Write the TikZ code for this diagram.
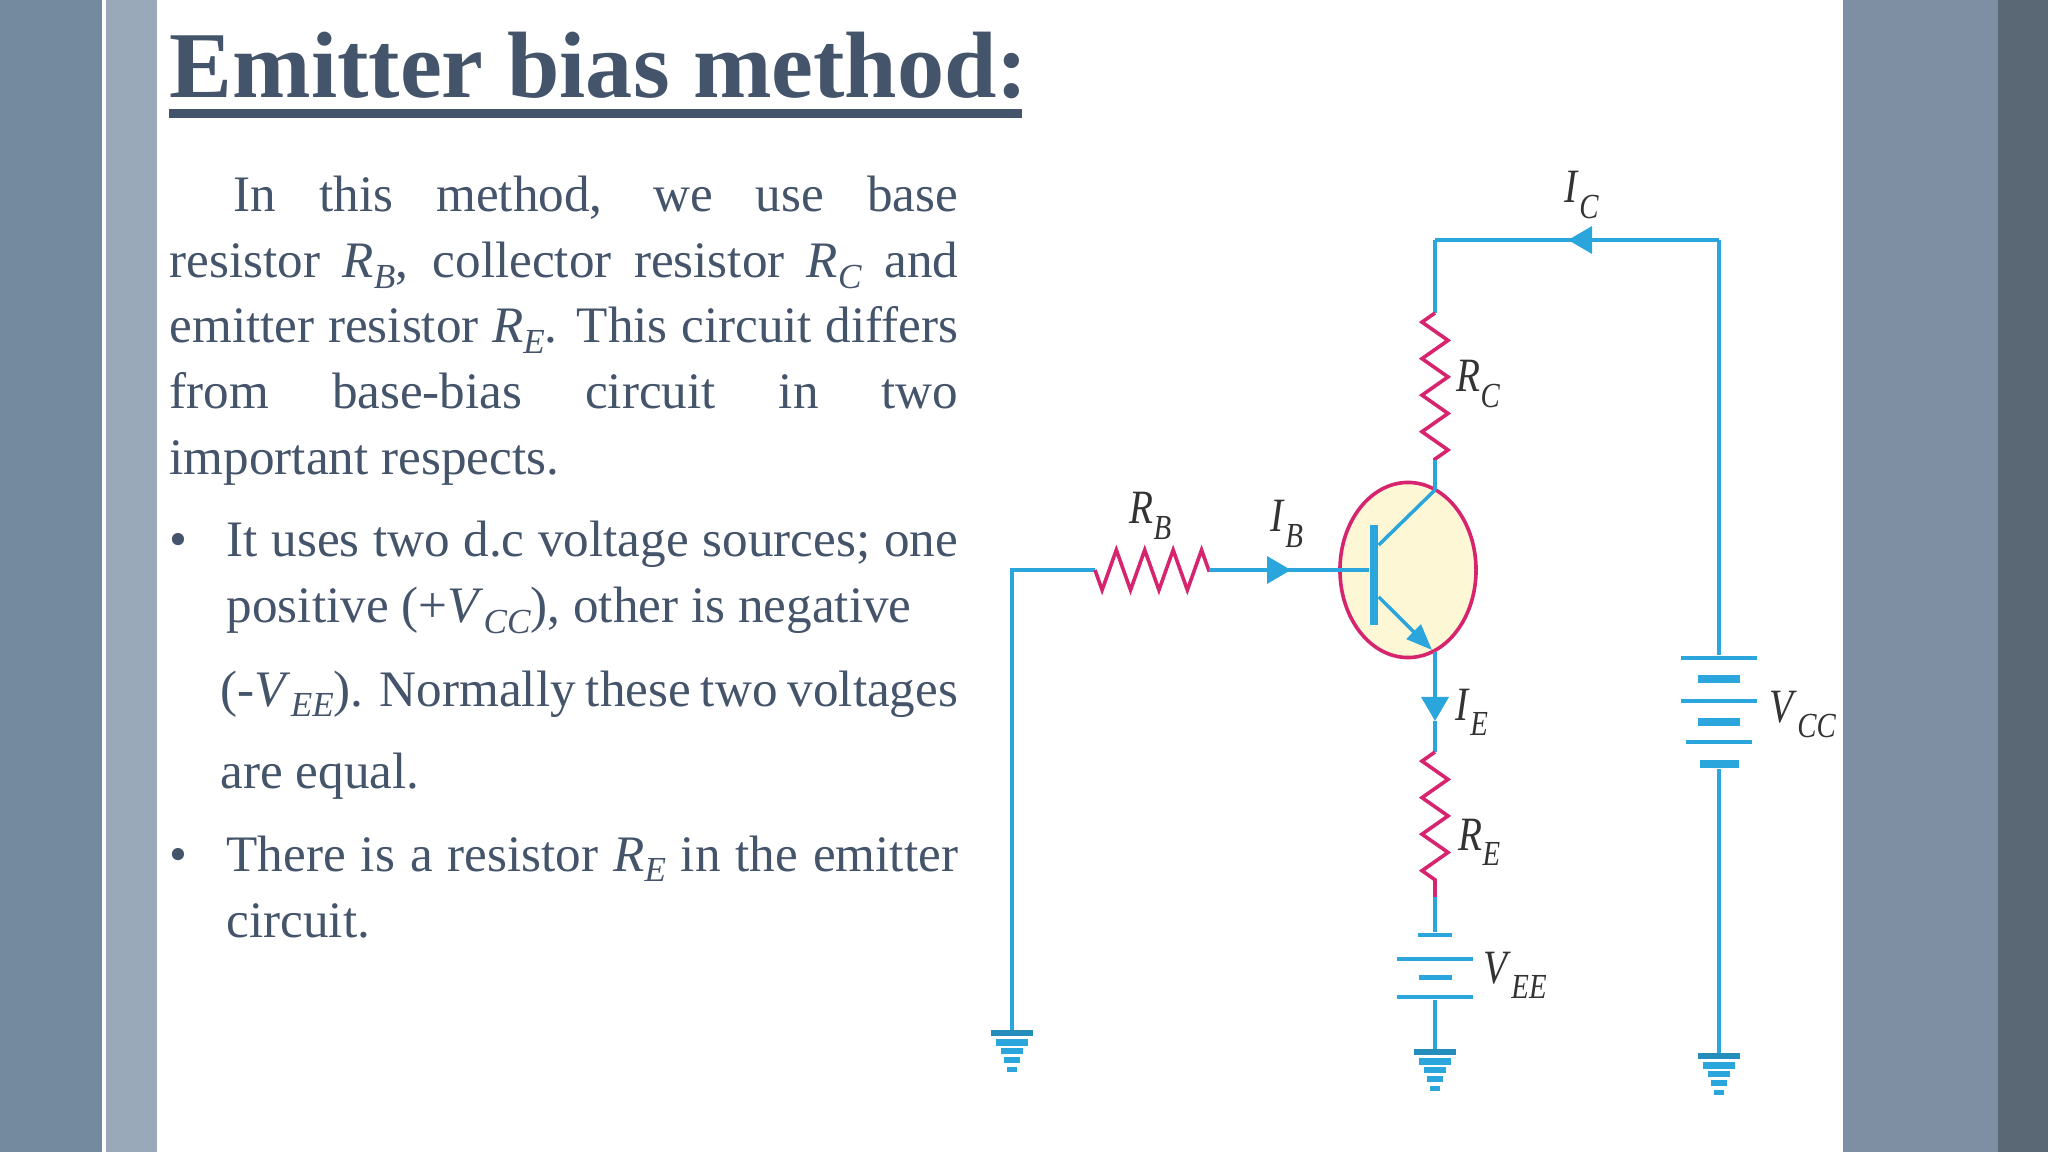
\documentclass[tikz,border=0pt]{standalone}
\usepackage{fontspec}
\usepackage{graphicx}
\setmainfont{Liberation Serif}
\usetikzlibrary{shapes.geometric, arrows.meta, decorations.pathmorphing}
\definecolor{barleft}{HTML}{748A9E}
\definecolor{barlight}{HTML}{9AA9B9}
\definecolor{barright}{HTML}{7E8FA3}
\definecolor{bardark}{HTML}{5A6775}
\definecolor{inkslate}{HTML}{44546A}
\definecolor{wireblue}{HTML}{2BA6DC}
\definecolor{resred}{HTML}{D6246E}
\definecolor{bjtfill}{HTML}{FDF7D6}
\newcommand{\bodysym}[2]{\textit{#1}\raisebox{-0.2em}{\fontsize{10}{12}\selectfont\textit{#2}}}
\newcommand{\cctsym}[2]{\scalebox{0.82}[1]{\textit{#1}\raisebox{-0.33em}{\fontsize{10}{12}\selectfont\textit{#2}}}}
\begin{document}
\begin{tikzpicture}[
    x=0.01cm, y=-0.01cm,
    heading/.style={anchor=base west, inner sep=0pt, text=inkslate, font=\fontsize{26.8}{30}\selectfont\bfseries},
    bodyline/.style={anchor=base west, inner sep=0pt, text=inkslate, font=\fontsize{14.55}{16}\selectfont},
    cctlabel/.style={anchor=base west, inner sep=0pt, text=black!80, font=\fontsize{13.6}{15}\selectfont},
    wire/.style={draw=wireblue, line width=0.035cm},
    heavywire/.style={draw=wireblue, line width=0.045cm},
    current/.style={wire, -{Triangle[length=0.24cm, width=0.27cm]}},
    resistor/.style={draw=resred, line width=0.036cm, decorate, decoration={zigzag, mirror, amplitude=0.13cm, segment length=0.365cm}},
    baseresistor/.style={resistor, decoration={zigzag, mirror, amplitude=0.2cm, segment length=0.284cm}},
    longplate/.style={fill=wireblue, inner sep=0pt, minimum width=0.76cm, minimum height=0.04cm},
    shortplate/.style={fill=wireblue, inner sep=0pt, minimum width=0.42cm, minimum height=0.08cm},
    ground/.pic={
      \draw[wireblue!85!black, line width=0.055cm] (-21,0) -- (21,0);
      \draw[wireblue, line width=0.07cm] (-16,9) -- (16,9);
      \draw[wireblue, line width=0.055cm] (-11,18) -- (11,18);
      \draw[wireblue, line width=0.055cm] (-8,27) -- (8,27);
      \draw[wireblue, line width=0.05cm] (-5,36) -- (5,36);
    }
  ]
    \useasboundingbox (0,0) rectangle (2048,1152);
    \fill[white] (0,0) rectangle (2048,1152);
    \fill[barleft] (0,0) rectangle (102,1152);
    \fill[barlight] (106,0) rectangle (157,1152);
    \fill[barright] (1843,0) rectangle (1998,1152);
    \fill[bardark] (1998,0) rectangle (2048,1152);

    \node[heading] (title) at (169,98) {Emitter bias method:};
    \fill[inkslate] (169,109) rectangle (1022,118);

    \node[bodyline] (line1) at (233,212) {\makebox[7.24cm][s]{In this method, we use base}};
    \node[bodyline] (line2) at (169,278) {\makebox[7.88cm][s]{resistor \bodysym{R}{B}, collector resistor \bodysym{R}{C} and}};
    \node[bodyline] (line3) at (169,343) {\makebox[7.88cm][s]{emitter resistor \bodysym{R}{E}. This circuit differs}};
    \node[bodyline] (line4) at (169,409) {\makebox[7.88cm][s]{from base-bias circuit in two}};
    \node[bodyline] (line5) at (169,475) {important respects.};

    \node[bodyline] (dot1) at (169,557) {•};
    \node[bodyline] (line6) at (226,557) {\makebox[7.31cm][s]{It uses two d.c voltage sources; one}};
    \node[bodyline] (line7) at (226,623) {positive (+\bodysym{V}{CC}), other is negative};
    \node[bodyline] (line8) at (220,706) {\makebox[7.37cm][s]{(-\bodysym{V}{EE}). Normally these two voltages}};
    \node[bodyline] (line9) at (220,788) {are equal.};
    \node[bodyline] (dot2) at (169,871) {•};
    \node[bodyline] (line10) at (226,871) {\makebox[7.31cm][s]{There is a resistor \bodysym{R}{E} in the emitter}};
    \node[bodyline] (line11) at (226,937) {circuit.};

    \node[ellipse, draw=resred, fill=bjtfill, line width=0.036cm, inner sep=0pt, minimum width=1.36cm, minimum height=1.75cm] (bjt) at (1408,570) {};
    \node[fill=wireblue, inner sep=0pt, minimum width=0.08cm, minimum height=0.99cm] (basebar) at (1374,575) {};

    \coordinate (gndL) at (1012,1033);
    \coordinate (baseL) at (1012,570);
    \coordinate (rbL) at (1095,570);
    \coordinate (rbR) at (1209,570);
    \coordinate (ibTip) at (1291,570);
    \coordinate (topL) at (1435,240);
    \coordinate (topR) at (1719,240);
    \coordinate (icTip) at (1568,240);
    \coordinate (rcT) at (1435,313);
    \coordinate (rcB) at (1435,460);
    \coordinate (coll) at (1435,490);
    \coordinate (emit) at (1432,650);
    \coordinate (emitOut) at (1435,652);
    \coordinate (ieTip) at (1435,721);
    \coordinate (reT) at (1435,752);
    \coordinate (reB) at (1435,897);
    \coordinate (gndE) at (1435,1052);
    \coordinate (gndC) at (1719,1056);

    \node[longplate] (vcc1) at (1719,658) {};
    \node[shortplate] (vcc2) at (1719,679) {};
    \node[longplate] (vcc3) at (1719,701) {};
    \node[shortplate] (vcc4) at (1719,722) {};
    \node[longplate, minimum width=0.66cm] (vcc5) at (1719,742) {};
    \node[shortplate, minimum width=0.39cm] (vcc6) at (1719,764) {};

    \node[longplate, minimum width=0.34cm] (vee1) at (1435,935) {};
    \node[longplate] (vee2) at (1435,959) {};
    \node[longplate, minimum width=0.33cm, minimum height=0.05cm] (vee3) at (1435,977) {};
    \node[longplate] (vee4) at (1435,997) {};

    \draw[wire] (gndL) -- (baseL) -- (rbL);
    \draw[baseresistor] (rbL) -- (rbR);
    \draw[heavywire] (rbR) -- (bjt.west) -- (basebar.west |- bjt.west);
    \draw[current] (rbR) -- (ibTip);
    \draw[heavywire] (topR) -- (topL);
    \draw[current] (topR) -- (icTip);
    \draw[wire] (topL) -- (rcT);
    \draw[wire] (topR) -- (vcc1.north);
    \draw[resistor] (rcT) -- (rcB);
    \draw[wire] (rcB) -- (coll);
    \draw[wire] (coll) -- (basebar.east |- 0,545);
    \draw[wire, -{Triangle[length=0.26cm, width=0.2cm]}] (basebar.east |- 0,597) -- (emit);
    \draw[current] (emitOut) -- (ieTip);
    \draw[wire] (ieTip) -- (reT);
    \draw[resistor] (reT) -- (reB);
    \draw[wire] (reB) -- (vee1.north);
    \draw[wire] (vee4.south) -- (gndE);
    \draw[wire] (vcc6.south) -- (gndC);

    \pic at (gndL) {ground};
    \pic at (gndE) {ground};
    \pic at (gndC) {ground};

    \node[cctlabel] (labelIc) at (1564,203) {\cctsym{I}{C}};
    \node[cctlabel] (labelRc) at (1456,392) {\cctsym{R}{C}};
    \node[cctlabel] (labelRb) at (1129,524) {\cctsym{R}{B}};
    \node[cctlabel] (labelIb) at (1270,532) {\cctsym{I}{B}};
    \node[cctlabel] (labelIe) at (1455,720) {\cctsym{I}{E}};
    \node[cctlabel] (labelRe) at (1458,850) {\cctsym{R}{E}};
    \node[cctlabel] (labelVee) at (1483,983) {\cctsym{V}{EE}};
    \node[cctlabel] (labelVcc) at (1769,722) {\cctsym{V}{CC}};
  \end{tikzpicture}
\end{document}
